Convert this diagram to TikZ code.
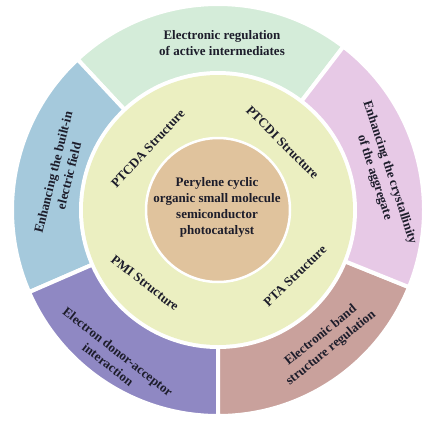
\documentclass[tikz,border=0pt]{standalone}
\usepackage{fontspec}
\setmainfont{Liberation Serif}
\definecolor{cgreen}{HTML}{D4ECD9}
\definecolor{cpink}{HTML}{E7C9E6}
\definecolor{cbrown}{HTML}{C9A19C}
\definecolor{cpurple}{HTML}{8F88C3}
\definecolor{cblue}{HTML}{A5C9DC}
\definecolor{cyellow}{HTML}{EBEFC1}
\definecolor{ctan}{HTML}{E0C39D}
\definecolor{ctxt}{HTML}{1D1D2B}
\tikzset{
  sector/.style={draw=white, line width=4pt, line join=miter},
  lbl/.style={font=\fontsize{13}{16}\selectfont\bfseries, text=ctxt, align=center, inner sep=0pt}
}
\newcommand\ringsector[3]{%
  \path[sector, fill=#3, shift={(218,-210)}] (#1:137) arc[start angle=#1, end angle=#2, radius=137]
    -- (#2:206) arc[start angle=#2, end angle=#1, radius=206] -- cycle;}
\begin{document}
\begin{tikzpicture}[x=1pt,y=1pt]
\useasboundingbox[fill=white] (0,0) rectangle (440,-424);
\coordinate (c) at (218,-210);
% outer ring sectors
\ringsector{52.5}{133}{cgreen}
\ringsector{133}{203.5}{cblue}
\ringsector{203.5}{270}{cpurple}
\ringsector{270}{338}{cbrown}
\ringsector{-22}{52.5}{cpink}
% inner rings
\fill[cyellow] (c) circle[radius=135];
\draw[fill=ctan, draw=white, line width=2.5pt] (c) circle[radius=72];
% texts
\node[lbl] (core) at (217,-207) {Perylene cyclic\\organic small molecule\\semiconductor\\photocatalyst};
\node[lbl, rotate=47] (ptcda) at (148,-148.5) {PTCDA Structure};
\node[lbl, rotate=-45] (ptcdi) at (282.5,-142.5) {PTCDI Structure};
\node[lbl, rotate=-38] (pmi) at (145,-283) {PMI Structure};
\node[lbl, rotate=44] (pta) at (295,-276) {PTA Structure};
\node[lbl] (act) at (222,-43) {Electronic regulation\\of active intermediates};
\node[lbl, rotate=76] (field) at (61,-174) {Enhancing the built-in\\electric field};
\node[lbl, rotate=-72] (cryst) at (382,-175) {Enhancing the crystallinity\\of the aggregate};
\node[lbl, rotate=-38] (da) at (113,-358) {Electron donor-acceptor\\interaction};
\node[lbl, rotate=39] (band) at (326,-342) {Electronic band\\structure regulation};
\end{tikzpicture}
\end{document}
